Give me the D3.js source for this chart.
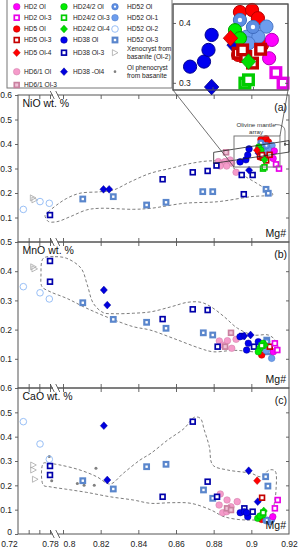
<!DOCTYPE html>
<html lang="en">
<head>
<meta charset="UTF-8">
<title>Olivine NiO, MnO, CaO vs Mg#</title>
<script src="https://d3js.org/d3.v7.min.js"></script>
<style>
  body { margin: 0; background: #fff; }
  svg { display: block; font-family: "Liberation Sans", Arial, sans-serif; }
  .axis path { display: none; }
  .axis line { stroke: #555; stroke-width: 0.9; }
  .axis text { font-size: 8.5px; fill: #222; }
</style>
</head>
<body>
<div id="chart"></div>
<script>
// x axis (Mg#) with a break between 0.78 and 0.8
const mgDomain = [0.72, 0.78, 0.8, 0.92];
const mgTicks = [0.74, 0.76, 0.78, 0.8, 0.82, 0.84, 0.86, 0.88, 0.9];
const mgLabels = [0.72, 0.78, 0.8, 0.82, 0.84, 0.86, 0.88, 0.9, 0.92];

const nioTicks = [0.1, 0.2, 0.3, 0.4, 0.5, 0.6];
const mnoTicks = [0.1, 0.2, 0.3, 0.4, 0.5];
const caoTicks = [0, 0.1, 0.2, 0.3, 0.4, 0.5, 0.6];

// inset (zoom of the NiO cluster)
const insetMgDomain = [0.8902, 0.9158];
const insetNioDomain = [0.288, 0.4317];
const insetNioTicks = [0.3, 0.4];
const insetMgTicks = [0.899, 0.908];
const zoomBoxMg = [0.8908, 0.9152];
const zoomBoxNio = [0.306, 0.4327];

// olivine mantle array band (Mg#, NiO)
const mantleArray = [[0.880, 0.366], [0.920, 0.414], [0.920, 0.367], [0.880, 0.321]];

// series keys, legend texts
const seriesKeys = ["HD2", "HD2-3", "HD5", "HD5-3", "HD5-4", "HD6", "HD6-3",
  "HD24", "HD24-3", "HD24-4", "HD38", "HD38-3", "HD38-4",
  "HD52", "HD52-1", "HD52-2", "HD52-3", "xeno", "pheno"];
const seriesLabels = ["HD2 Ol", "HD2 Ol-3", "HD5 Ol", "HD5 Ol-3", "HD5 Ol-4", "HD6/1 Ol", "HD6/1 Ol-3",
  "HD24/2 Ol", "HD24/2 Ol-3", "HD24/2 Ol-4", "HD38 Ol", "HD38 Ol-3", "HD38 -Ol4",
  "HD52 Ol", "HD52 Ol-1", "HD52 Ol-2", "HD52 Ol-3",
  "Xenocryst from|basanite (Ol-2)", "Ol phenocryst|from basanite"];
const legendColumns = [
  ["HD2", "HD2-3", "HD5", "HD5-3", "HD5-4", "HD6", "HD6-3"],
  ["HD24", "HD24-3", "HD24-4", "HD38", "HD38-3", "HD38-4"],
  ["HD52", "HD52-1", "HD52-2", "HD52-3", "xeno", "pheno"]
];
const drawOrder = ["pheno", "xeno", "HD52-2", "HD52-3", "HD6", "HD6-3", "HD38-3", "HD38",
  "HD38-4", "HD5", "HD52-1", "HD52", "HD24", "HD2", "HD5-3", "HD24-4", "HD5-4", "HD24-3", "HD2-3"];

// [series, Mg#, NiO]
const nioPoints = [
  ["xeno", 0.748, 0.18], ["xeno", 0.751, 0.172],
  ["HD52-2", 0.730, 0.133], ["HD52-2", 0.7613, 0.165], ["HD52-2", 0.7787, 0.158],
  ["HD38-3", 0.78, 0.110], ["HD38-3", 0.8529, 0.256], ["HD38-3", 0.8689, 0.2845], ["HD38-3", 0.8768, 0.290],
  ["HD38-3", 0.8815, 0.312], ["HD38-3", 0.8949, 0.2735], ["HD38-3", 0.9007, 0.2735], ["HD38-3", 0.896, 0.195],
  ["HD38-4", 0.8215, 0.215], ["HD38-4", 0.8245, 0.215], ["HD38-4", 0.9038, 0.363], ["HD38-4", 0.8988, 0.293],
  ["HD52-3", 0.8105, 0.1755], ["HD52-3", 0.8267, 0.185], ["HD52-3", 0.8444, 0.151], ["HD52-3", 0.8547, 0.162],
  ["HD52-3", 0.8742, 0.2055], ["HD52-3", 0.8795, 0.2055], ["HD52-3", 0.9078, 0.215], ["HD52-3", 0.909, 0.199],
  ["HD6", 0.8825, 0.328], ["HD6", 0.8843, 0.321], ["HD6", 0.886, 0.328], ["HD6", 0.8887, 0.335],
  ["HD6", 0.8896, 0.322], ["HD6", 0.8834, 0.31], ["HD6", 0.8869, 0.31], ["HD6", 0.8919, 0.2845],
  ["HD6-3", 0.8866, 0.366],
  ["HD38", 0.894, 0.327], ["HD38", 0.8971, 0.3355], ["HD38", 0.8981, 0.355], ["HD38", 0.8988, 0.380],
  ["HD5", 0.9051, 0.4183], ["HD5", 0.9078, 0.4217], ["HD5", 0.9091, 0.408], ["HD5", 0.9047, 0.3467], ["HD5", 0.91, 0.363],
  ["HD52", 0.9051, 0.405], ["HD52", 0.908, 0.3933],
  ["HD52-1", 0.911, 0.394], ["HD52-1", 0.9077, 0.38], ["HD52-1", 0.9066, 0.377], ["HD52-1", 0.9092, 0.377], ["HD52-1", 0.907, 0.366],
  ["HD24", 0.904, 0.388], ["HD24", 0.9051, 0.3745],
  ["HD2", 0.9122, 0.3717], ["HD2", 0.9116, 0.341],
  ["HD5-3", 0.9047, 0.3495], ["HD5-3", 0.9064, 0.344], ["HD5-3", 0.9079, 0.333], ["HD5-3", 0.9097, 0.356], ["HD5-3", 0.9057, 0.355],
  ["HD5-4", 0.903, 0.3745],
  ["HD24-4", 0.907, 0.3355],
  ["HD24-3", 0.9062, 0.2995], ["HD24-3", 0.907, 0.305],
  ["HD2-3", 0.9131, 0.317], ["HD2-3", 0.9147, 0.2995]
];

// [series, Mg#, MnO]
const mnoPoints = [
  ["xeno", 0.7487, 0.415], ["xeno", 0.751, 0.408],
  ["HD52-2", 0.730, 0.347], ["HD52-2", 0.7613, 0.326], ["HD52-2", 0.7787, 0.305],
  ["HD38-3", 0.78, 0.435], ["HD38-3", 0.78, 0.364], ["HD38-3", 0.8529, 0.236], ["HD38-3", 0.8689, 0.2695],
  ["HD38-3", 0.8768, 0.267], ["HD38-3", 0.8821, 0.1415], ["HD38-3", 0.8952, 0.178], ["HD38-3", 0.9014, 0.1415],
  ["HD52-3", 0.8105, 0.292], ["HD52-3", 0.8267, 0.235], ["HD52-3", 0.8444, 0.225], ["HD52-3", 0.8547, 0.2045],
  ["HD52-3", 0.8745, 0.189], ["HD52-3", 0.8795, 0.1815], ["HD52-3", 0.9082, 0.164], ["HD52-3", 0.909, 0.124],
  ["HD38-4", 0.8217, 0.3356], ["HD38-4", 0.8235, 0.284], ["HD38-4", 0.8962, 0.178], ["HD38-4", 0.8996, 0.1815],
  ["HD6-3", 0.8892, 0.189], ["HD6-3", 0.8861, 0.1415],
  ["HD6", 0.883, 0.161], ["HD6", 0.8873, 0.162], ["HD6", 0.8919, 0.1667], ["HD6", 0.8848, 0.147], ["HD6", 0.8896, 0.136],
  ["HD38", 0.894, 0.1757], ["HD38", 0.8984, 0.153], ["HD38", 0.8975, 0.130], ["HD38", 0.9037, 0.1586],
  ["HD5", 0.9055, 0.113],
  ["HD52-1", 0.9078, 0.128], ["HD52-1", 0.9108, 0.1015],
  ["HD52", 0.9082, 0.1586],
  ["HD24", 0.9063, 0.153], ["HD24", 0.9046, 0.136], ["HD24", 0.9037, 0.124],
  ["HD2", 0.9117, 0.124],
  ["HD5-3", 0.9098, 0.1415],
  ["HD24-4", 0.9072, 0.147],
  ["HD24-3", 0.9055, 0.145],
  ["HD2-3", 0.9125, 0.153], ["HD2-3", 0.9138, 0.130]
];

// [series, Mg#, CaO]
const caoPoints = [
  ["pheno", 0.7787, 0.318], ["pheno", 0.7826, 0.219], ["pheno", 0.8076, 0.208], ["pheno", 0.8112, 0.2],
  ["pheno", 0.8166, 0.2], ["pheno", 0.8175, 0.27],
  ["xeno", 0.7487, 0.2836], ["xeno", 0.7487, 0.263], ["xeno", 0.752, 0.225],
  ["HD52-2", 0.730, 0.4616], ["HD52-2", 0.7613, 0.37], ["HD52-2", 0.7787, 0.307],
  ["HD38-3", 0.78, 0.2795], ["HD38-3", 0.78, 0.2425], ["HD38-3", 0.8689, 0.4616], ["HD38-3", 0.8529, 0.153],
  ["HD38-3", 0.8768, 0.215], ["HD38-3", 0.8818, 0.153], ["HD38-3", 0.8963, 0.1055], ["HD38-3", 0.9007, 0.0917],
  ["HD52-3", 0.8105, 0.219], ["HD52-3", 0.8267, 0.185], ["HD52-3", 0.8444, 0.2766], ["HD52-3", 0.8547, 0.2865],
  ["HD52-3", 0.8746, 0.181], ["HD52-3", 0.8795, 0.1467], ["HD52-3", 0.9076, 0.2355], ["HD52-3", 0.9088, 0.197],
  ["HD38-4", 0.8217, 0.445], ["HD38-4", 0.8235, 0.222], ["HD38-4", 0.8986, 0.26], ["HD38-4", 0.9034, 0.1328],
  ["HD6", 0.8835, 0.1644], ["HD6", 0.8829, 0.119], ["HD6", 0.8871, 0.1397], ["HD6", 0.8925, 0.133],
  ["HD6", 0.8848, 0.0876], ["HD6", 0.8892, 0.112], ["HD6", 0.8869, 0.0917],
  ["HD6-3", 0.8871, 0.1055], ["HD6-3", 0.8892, 0.0986],
  ["HD38", 0.8941, 0.0876], ["HD38", 0.8963, 0.0917], ["HD38", 0.8981, 0.071], ["HD38", 0.8975, 0.0876],
  ["HD5", 0.9051, 0.071], ["HD5", 0.9055, 0.06],
  ["HD52-1", 0.9078, 0.0547], ["HD52-1", 0.9098, 0.0506],
  ["HD52", 0.9082, 0.0575], ["HD52", 0.9108, 0.06],
  ["HD24", 0.9034, 0.0645], ["HD24", 0.906, 0.078], ["HD24", 0.9046, 0.074],
  ["HD2", 0.9114, 0.071],
  ["HD5-3", 0.9057, 0.149],
  ["HD24-4", 0.9066, 0.0945],
  ["HD5-4", 0.9031, 0.219],
  ["HD24-3", 0.9063, 0.0876],
  ["HD2-3", 0.914, 0.1397], ["HD2-3", 0.9125, 0.1055]
];

// dashed envelopes [Mg#, value]
const nioEnvelope = [
  [0.7706, 0.110], [0.7763, 0.122], [0.7903, 0.151], [0.802, 0.178], [0.809, 0.199], [0.8196, 0.205],
  [0.8267, 0.212], [0.8356, 0.245], [0.8462, 0.280], [0.8573, 0.301], [0.868, 0.321], [0.878, 0.331],
  [0.886, 0.327], [0.8897, 0.307], [0.8956, 0.273], [0.9028, 0.240], [0.9099, 0.205], [0.9115, 0.194],
  [0.8998, 0.185], [0.8821, 0.1645], [0.8644, 0.158], [0.8467, 0.1376], [0.8373, 0.1335], [0.8196, 0.1376],
  [0.8126, 0.131], [0.8037, 0.103], [0.7908, 0.083], [0.7768, 0.084]
];
const mnoEnvelope = [
  [0.7674, 0.444], [0.7877, 0.4497], [0.802, 0.444], [0.8096, 0.41], [0.8129, 0.353], [0.8161, 0.29],
  [0.8214, 0.258], [0.8267, 0.2545], [0.8373, 0.256], [0.8467, 0.261], [0.8573, 0.278], [0.8662, 0.2935],
  [0.8733, 0.2935], [0.8786, 0.278], [0.8856, 0.244], [0.8927, 0.2045], [0.901, 0.1815], [0.909, 0.1815],
  [0.9126, 0.164], [0.914, 0.130], [0.9046, 0.123], [0.891, 0.129], [0.8798, 0.124], [0.8727, 0.136],
  [0.8586, 0.170], [0.8462, 0.1986], [0.8373, 0.21], [0.825, 0.2387], [0.8126, 0.273], [0.802, 0.307],
  [0.78, 0.33], [0.765, 0.347], [0.7631, 0.387]
];
const caoEnvelope = [
  [0.7674, 0.2906], [0.7768, 0.2906], [0.7954, 0.2836], [0.809, 0.263], [0.8179, 0.2355], [0.825, 0.2055],
  [0.832, 0.2495], [0.8409, 0.304], [0.8467, 0.3317], [0.8556, 0.3863], [0.8644, 0.4344], [0.8697, 0.4797],
  [0.8729, 0.4755], [0.875, 0.4275], [0.8777, 0.3588], [0.8795, 0.2836], [0.8874, 0.263], [0.8998, 0.2495],
  [0.9051, 0.2355], [0.9095, 0.263], [0.9126, 0.259], [0.9131, 0.181], [0.9122, 0.126], [0.9104, 0.071],
  [0.8981, 0.0575], [0.8856, 0.071], [0.8786, 0.0986], [0.868, 0.126], [0.8573, 0.1286], [0.8467, 0.126],
  [0.8373, 0.1397], [0.825, 0.153], [0.8126, 0.171], [0.802, 0.1837], [0.78, 0.194], [0.7674, 0.201]
];

// marker styles
const styles = {
  "HD2":    { shape: "circle", fill: "#ff00ff", stroke: "#b300b3" },
  "HD2-3":  { shape: "square", fill: "#fff", stroke: "#e800e8", sw: 1.7 },
  "HD5":    { shape: "circle", fill: "#ff0000", stroke: "#b30000" },
  "HD5-3":  { shape: "square", fill: "#fff", stroke: "#c40000", sw: 1.7 },
  "HD5-4":  { shape: "diamond", fill: "#ff0000", stroke: "#b30000" },
  "HD6":    { shape: "circle", fill: "#f59bca", stroke: "#cf7aa6" },
  "HD6-3":  { shape: "square", fill: "#f0c3d9", stroke: "#c9809f", sw: 1.7 },
  "HD24":   { shape: "circle", fill: "#00ee00", stroke: "#009a00" },
  "HD24-3": { shape: "square", fill: "#fff", stroke: "#00cc00", sw: 1.7 },
  "HD24-4": { shape: "diamond", fill: "#00dd00", stroke: "#009a00" },
  "HD38":   { shape: "circle", fill: "#0000f0", stroke: "#000090" },
  "HD38-3": { shape: "square", fill: "#fff", stroke: "#0000aa", sw: 1.7 },
  "HD38-4": { shape: "diamond", fill: "#0000dd", stroke: "#00008a" },
  "HD52":   { shape: "ring", fill: "#5d8ee2", stroke: "#3f6cbf" },
  "HD52-1": { shape: "circle", fill: "#6d9ded", stroke: "#4a78c8" },
  "HD52-2": { shape: "hollow", fill: "none", stroke: "#8db8f4" },
  "HD52-3": { shape: "square", fill: "#fff", stroke: "#5a86cc", sw: 2.2 },
  "xeno":   { shape: "triangle", fill: "none", stroke: "#a8a8a8" },
  "pheno":  { shape: "dot", fill: "#808080", stroke: "none" }
};

function drawMarker(g, key, s) {
  const st = styles[key];
  if (st.shape === "circle" || st.shape === "ring") {
    g.append("circle").attr("r", 3.3 * s).attr("fill", st.fill)
      .attr("stroke", st.stroke).attr("stroke-width", 0.5 * s);
    if (st.shape === "ring") g.append("circle").attr("r", 1.1 * s).attr("fill", "#fff");
  } else if (st.shape === "hollow") {
    g.append("circle").attr("r", 3.3 * s).attr("fill", "none")
      .attr("stroke", st.stroke).attr("stroke-width", 0.9 * s);
  } else if (st.shape === "square") {
    const h = (st.sw > 2 ? 2.3 : 2.4) * s;
    g.append("rect").attr("x", -h).attr("y", -h).attr("width", 2 * h).attr("height", 2 * h)
      .attr("fill", st.fill).attr("stroke", st.stroke).attr("stroke-width", st.sw * s);
  } else if (st.shape === "diamond") {
    const w = 3.6 * s, hh = 3.9 * s;
    g.append("path").attr("d", `M0,${-hh}L${w},0L0,${hh}L${-w},0Z`)
      .attr("fill", st.fill).attr("stroke", st.stroke).attr("stroke-width", 0.4 * s);
  } else if (st.shape === "triangle") {
    g.append("path").attr("d", `M${-2.6 * s},${-3 * s}L${3 * s},0L${-2.6 * s},${3 * s}Z`)
      .attr("fill", "none").attr("stroke", st.stroke).attr("stroke-width", 0.8 * s);
  } else {
    g.append("circle").attr("r", 1.5 * s).attr("fill", st.fill);
  }
}

const W = 302, H = 550;
const svg = d3.select("#chart").append("svg").attr("width", W).attr("height", H);

const x = d3.scaleLinear().domain(mgDomain).range([18, 50, 63, 289]);
const xLeft = 18, xRight = 289;

const panels = [
  { title: "NiO wt. %", tag: "(a)", points: nioPoints, env: nioEnvelope, ticks: nioTicks,
    y: d3.scaleLinear().domain([0, 0.6]).range([242, 95]) },
  { title: "MnO wt. %", tag: "(b)", points: mnoPoints, env: mnoEnvelope, ticks: mnoTicks,
    y: d3.scaleLinear().domain([0, 0.5]).range([388, 242]) },
  { title: "CaO wt. %", tag: "(c)", points: caoPoints, env: caoEnvelope, ticks: caoTicks,
    y: d3.scaleLinear().domain([0, 0.6]).range([534, 388]) }
];

const byOrder = (a, b) => drawOrder.indexOf(a[0]) - drawOrder.indexOf(b[0]);

panels.forEach((p, i) => {
  const y = p.y;
  const top = y.range()[1], bottom = y.range()[0];
  const g = svg.append("g");

  // envelope
  const line = d3.line().curve(d3.curveCatmullRomClosed.alpha(0.5))
    .x(d => x(d[0])).y(d => y(d[1]));
  g.append("path").attr("d", line(p.env)).attr("fill", "none")
    .attr("stroke", "#6e6e6e").attr("stroke-width", 0.9).attr("stroke-dasharray", "3,2.2");

  // points
  g.append("g").selectAll("g")
    .data(p.points.slice().sort(byOrder))
    .join("g")
    .attr("transform", d => `translate(${x(d[1])},${y(d[2])})`)
    .each(function (d) { drawMarker(d3.select(this), d[0], 1); });

  // frame
  g.append("rect").attr("x", xLeft).attr("y", top).attr("width", xRight - xLeft)
    .attr("height", bottom - top).attr("fill", "none").attr("stroke", "#555").attr("stroke-width", 1);

  // axes
  const inner = p.ticks.filter(t => t > y.domain()[0] && t < y.domain()[1]);
  const la = g.append("g").attr("class", "axis").attr("transform", `translate(${xLeft},0)`)
    .call(d3.axisLeft(y).tickValues(p.ticks).tickSize(3).tickPadding(3).tickFormat(d => String(d)));
  la.selectAll(".tick text").filter(d => d === 0).attr("dy", "0.1em");
  g.append("g").attr("class", "axis").attr("transform", `translate(${xRight},0)`)
    .call(d3.axisRight(y).tickValues(inner).tickSize(-3).tickFormat(""));
  g.append("g").attr("class", "axis").attr("transform", `translate(0,${bottom})`)
    .call(d3.axisBottom(x).tickValues(mgTicks).tickSize(-4).tickFormat(""));
  g.append("g").attr("class", "axis").attr("transform", `translate(0,${top})`)
    .call(d3.axisTop(x).tickValues(mgTicks).tickSize(-4).tickFormat(""));

  // labels
  g.append("text").attr("x", 22.5).attr("y", top + 12).attr("font-size", 10.5).attr("fill", "#111").text(p.title);
  g.append("text").attr("x", 287).attr("y", top + 16).attr("text-anchor", "end")
    .attr("font-size", 10.5).attr("fill", "#111").text(p.tag);
  g.append("text").attr("x", 286).attr("y", bottom - 5.5).attr("text-anchor", "end")
    .attr("font-size", 10.5).attr("fill", "#111").text("Mg#");
});

// x tick labels
const xl = svg.append("g").attr("class", "axis").attr("transform", "translate(0,534)")
  .call(d3.axisBottom(x).tickValues(mgLabels).tickSize(0).tickPadding(6.5).tickFormat(d => String(d)));
xl.selectAll(".tick text").attr("dx", d => d === 0.72 ? -9 : d === 0.8 ? 6 : 0);

// axis break marks on every horizontal frame line
[95, 242, 388, 534].forEach(yy => {
  const bx = x(0.785);
  svg.append("rect").attr("x", bx - 0.5).attr("y", yy - 1).attr("width", 5).attr("height", 2).attr("fill", "#fff");
  [bx - 1, bx + 4.5].forEach(cx => {
    svg.append("line").attr("x1", cx - 2).attr("y1", yy - 4).attr("x2", cx + 2).attr("y2", yy + 4)
      .attr("stroke", "#444").attr("stroke-width", 0.8);
  });
});

// mantle array, zoom box and annotation (panel a)
const ya = panels[0].y;
svg.append("path")
  .attr("d", d3.line().x(d => x(d[0])).y(d => ya(d[1]))(mantleArray) + "Z")
  .attr("fill", "none").attr("stroke", "#222").attr("stroke-width", 0.8);

const zx0 = x(zoomBoxMg[0]), zx1 = x(zoomBoxMg[1]);
const zy0 = ya(zoomBoxNio[1]), zy1 = ya(zoomBoxNio[0]);
svg.append("rect").attr("x", zx0).attr("y", zy0).attr("width", zx1 - zx0).attr("height", zy1 - zy0)
  .attr("fill", "none").attr("stroke", "#777").attr("stroke-width", 1);

svg.append("defs").append("marker").attr("id", "arr").attr("viewBox", "0 0 10 10")
  .attr("refX", 9).attr("refY", 5).attr("markerWidth", 5).attr("markerHeight", 5).attr("orient", "auto")
  .append("path").attr("d", "M0,1L10,5L0,9Z").attr("fill", "#333");
svg.append("path").attr("d", "M275,124.5 Q285,124.5 285,131 L285,146")
  .attr("fill", "none").attr("stroke", "#333").attr("stroke-width", 0.6).attr("marker-end", "url(#arr)");
svg.append("text").attr("x", 256).attr("y", 127).attr("text-anchor", "middle").attr("font-size", 6.2)
  .attr("fill", "#333").text("Olivine mantle");
svg.append("text").attr("x", 256).attr("y", 133.5).attr("text-anchor", "middle").attr("font-size", 6.2)
  .attr("fill", "#333").text("array");

// inset
const ix = d3.scaleLinear().domain(insetMgDomain).range([173, 288]);
const iy = d3.scaleLinear().domain(insetNioDomain).range([90, 4]);

svg.append("line").attr("x1", 173).attr("y1", 90).attr("x2", zx0).attr("y2", zy1)
  .attr("stroke", "#333").attr("stroke-width", 0.7);
svg.append("line").attr("x1", 288).attr("y1", 90).attr("x2", zx1).attr("y2", zy0)
  .attr("stroke", "#333").attr("stroke-width", 0.7);

const inset = svg.append("g");
inset.append("rect").attr("x", 173).attr("y", 4).attr("width", 115).attr("height", 86)
  .attr("fill", "#fff").attr("stroke", "#555").attr("stroke-width", 1);
const insetPts = nioPoints.filter(d => d[1] >= insetMgDomain[0] && d[1] <= insetMgDomain[1]
  && d[2] >= insetNioDomain[0] && d[2] <= insetNioDomain[1]).sort(byOrder);
inset.append("g").selectAll("g").data(insetPts).join("g")
  .attr("transform", d => `translate(${ix(d[1])},${iy(d[2])})`)
  .each(function (d) { drawMarker(d3.select(this), d[0], 2); });
inset.append("rect").attr("x", 173).attr("y", 4).attr("width", 115).attr("height", 86)
  .attr("fill", "none").attr("stroke", "#555").attr("stroke-width", 1);
const ia = inset.append("g").attr("class", "axis").attr("transform", "translate(173,0)")
  .call(d3.axisRight(iy).tickValues(insetNioTicks).tickSize(3).tickPadding(3).tickFormat(d => String(d)));
ia.selectAll("text").attr("font-size", 7.5);
inset.append("g").attr("class", "axis").attr("transform", "translate(288,0)")
  .call(d3.axisRight(iy).tickValues(insetNioTicks).tickSize(-3).tickFormat(""));
inset.append("g").attr("class", "axis").attr("transform", "translate(0,90)")
  .call(d3.axisBottom(ix).tickValues(insetMgTicks).tickSize(-3).tickFormat(""));

// legend
const legend = svg.append("g");
legend.append("rect").attr("x", 7).attr("y", -1).attr("width", 165).attr("height", 89)
  .attr("fill", "#fff").attr("stroke", "#777").attr("stroke-width", 1);
const rowY = [6.7, 17.7, 29, 40, 52.7, 71.7, 85];
const colMarkerX = [16.7, 64, 115];
const colTextX = [24, 73, 127];
legendColumns.forEach((col, ci) => {
  col.forEach((key, ri) => {
    const cy = rowY[ri];
    const gm = legend.append("g").attr("transform", `translate(${colMarkerX[ci]},${cy})`);
    drawMarker(gm, key, key === "pheno" ? 0.9 : 1);
    const lines = seriesLabels[seriesKeys.indexOf(key)].split("|");
    lines.forEach((t, li) => {
      legend.append("text").attr("x", colTextX[ci])
        .attr("y", cy + 2.4 + (li - (lines.length - 1) / 2) * 8.6)
        .attr("font-size", 6.6).attr("fill", "#222").text(t);
    });
  });
});
</script>
</body>
</html>
